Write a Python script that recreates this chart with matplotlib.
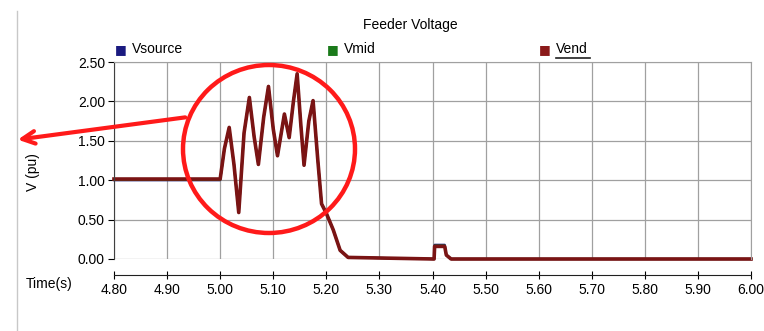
import numpy as np
import matplotlib.pyplot as plt
from matplotlib.patches import Ellipse

plt.rcParams['font.family'] = ['Liberation Sans', 'DejaVu Sans']

# datos
tiempo = [4.80, 5.000, 5.008, 5.017, 5.026, 5.035, 5.045, 5.055, 5.064, 5.072,
          5.082, 5.091, 5.100, 5.108, 5.121, 5.130, 5.138, 5.145, 5.152, 5.158,
          5.167, 5.175, 5.184, 5.191, 5.200, 5.213, 5.226, 5.241, 5.403,
          5.404, 5.423, 5.426, 5.435, 6.00]
v_source = [1.00, 1.00, 1.40, 1.66, 1.20, 0.59, 1.60, 2.05, 1.55, 1.20,
            1.80, 2.19, 1.65, 1.31, 1.84, 1.54, 2.00, 2.35, 1.70, 1.19,
            1.75, 2.01, 1.25, 0.70, 0.58, 0.37, 0.11, 0.02, 0.00,
            0.18, 0.18, 0.05, 0.00, 0.00]
v_mid = [1.005, 1.005, 1.40, 1.66, 1.20, 0.59, 1.60, 2.05, 1.55, 1.20,
         1.80, 2.19, 1.65, 1.31, 1.84, 1.54, 2.00, 2.35, 1.70, 1.19,
         1.75, 2.01, 1.25, 0.70, 0.58, 0.37, 0.11, 0.02, 0.00,
         0.17, 0.17, 0.05, 0.00, 0.00]
v_end = [1.015, 1.015, 1.40, 1.67, 1.20, 0.59, 1.60, 2.05, 1.55, 1.20,
         1.80, 2.19, 1.65, 1.31, 1.84, 1.54, 2.00, 2.35, 1.70, 1.19,
         1.75, 2.01, 1.25, 0.70, 0.58, 0.37, 0.11, 0.02, 0.00,
         0.16, 0.16, 0.05, 0.00, 0.00]
xticks = np.round(np.arange(4.8, 6.001, 0.1), 2)
yticks = [0.0, 0.5, 1.0, 1.5, 2.0, 2.5]

fig = plt.figure(figsize=(7.64, 3.31), dpi=100)
ax = fig.add_axes([114 / 764, 72 / 331, 637 / 764, 197 / 331])

ax.plot(tiempo, v_source, color='#1a1a80', lw=1.6, clip_on=False)
ax.plot(tiempo, v_mid, color='#1a7a1a', lw=1.6, clip_on=False)
ax.plot(tiempo, v_end, color='#7a1414', lw=2.6, clip_on=False)

ax.set_xlim(4.8, 6.0)
ax.set_ylim(0, 2.5)
ax.set_xticks(xticks)
ax.set_xticklabels([f'{x:.2f}' for x in xticks])
ax.set_yticks(yticks)
ax.set_yticklabels([f'{y:.2f}' for y in yticks])
ax.grid(True, color='#a0a0a0', lw=0.9)
ax.set_axisbelow(True)

for s in ['top', 'right']:
    ax.spines[s].set_color('#a0a0a0')
ax.spines['left'].set_color('#404040')
ax.spines['bottom'].set_position(('outward', 11.5))
ax.spines['bottom'].set_color('#202020')
ax.tick_params(axis='x', direction='inout', length=6, labelsize=10, pad=3)
ax.tick_params(axis='y', direction='out', length=4.5, labelsize=10, pad=2)

fig.text(33 / 764, 1 - 172 / 331, 'V (pu)', fontsize=10, rotation=90,
         ha='center', va='center')
fig.text(49 / 764, 1 - 284 / 331, 'Time(s)', fontsize=10, ha='center', va='center')
fig.text(410 / 764, 1 - 25 / 331, 'Feeder Voltage', fontsize=10, ha='center', va='center')

# leyenda
leyenda = [('Vsource', '#1a1a80', 121), ('Vmid', '#1a7a1a', 333), ('Vend', '#8b1a1a', 545)]
for nombre, color, px in leyenda:
    fig.text(px / 764, 1 - 50 / 331, '\u25a0', color=color, fontsize=9,
             ha='center', va='center', family='DejaVu Sans')
    fig.text((px + 11) / 764, 1 - 49 / 331, nombre, fontsize=10,
             ha='left', va='center')
    if nombre == 'Vend':
        fig.add_artist(plt.Line2D([(px + 11) / 764, (px + 45) / 764],
                                  [1 - 58 / 331, 1 - 58 / 331],
                                  color='#202020', lw=1.2))

# anotacion roja
fig.add_artist(Ellipse((269 / 764, 1 - 149 / 331), 172 / 764, 168 / 331,
                       transform=fig.transFigure, fill=False,
                       edgecolor='#ff1a1a', lw=3.2))
ax.annotate('', xy=(15 / 764, 1 - 140 / 331), xycoords='figure fraction',
            xytext=(188 / 764, 1 - 117 / 331), textcoords='figure fraction',
            arrowprops=dict(arrowstyle='->,head_length=0.9,head_width=0.45',
                            color='#ff1a1a', lw=3))

fig.add_artist(plt.Line2D([17 / 764, 17 / 764], [0, 1 - 11 / 331],
                          color='#c8c8c8', lw=1))

fig.savefig('out.png', dpi=100)
